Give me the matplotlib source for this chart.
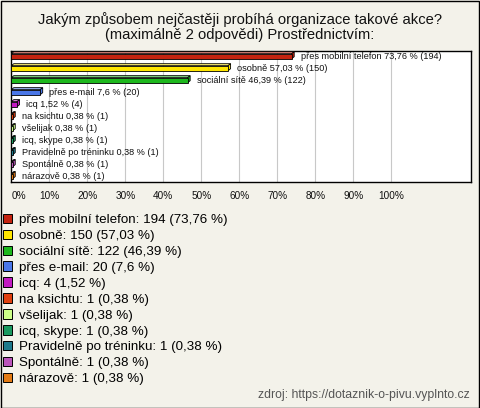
import matplotlib
matplotlib.use("Agg")
import matplotlib.pyplot as plt
from matplotlib.patches import Patch, Rectangle, Polygon
import matplotlib.colors as mcolors
import numpy as np

plt.rcParams['font.family'] = ['Liberation Sans', 'DejaVu Sans']

title = "Jakým způsobem nejčastěji probíhá organizace takové akce?\n(maximálně 2 odpovědi) Prostřednictvím:"
categories = ["přes mobilní telefon", "osobně", "sociální sítě", "přes e-mail", "icq",
              "na ksichtu", "všelijak", "icq, skype", "Pravidelně po tréninku",
              "Spontálně", "nárazově"]
counts = [194, 150, 122, 20, 4, 1, 1, 1, 1, 1, 1]
percents = [73.76, 57.03, 46.39, 7.6, 1.52, 0.38, 0.38, 0.38, 0.38, 0.38, 0.38]
percent_labels = ["73,76", "57,03", "46,39", "7,6", "1,52", "0,38", "0,38", "0,38", "0,38", "0,38", "0,38"]
colors = ["#C42310", "#FFE600", "#1DB81D", "#4A77E8", "#C21AC2", "#E04010",
          "#CCFF88", "#199960", "#1F7A8C", "#BB55BB", "#E37A14"]
ticks = [0, 10, 20, 30, 40, 50, 60, 70, 80, 90, 100]
source = "zdroj: https://dotaznik-o-pivu.vyplnto.cz"

W, H = 480, 408
bg = "#F3F2EA"
fig = plt.figure(figsize=(W / 100, H / 100), dpi=100, facecolor=bg)

# figure border
fig.patches.append(Rectangle((0.5 / W, 0.5 / H), 1 - 1.5 / W, 1 - 1.5 / H, transform=fig.transFigure,
                             fill=False, edgecolor="black", linewidth=1.0))

fig.text(240 / W, 1 - 12 / H, title, ha="center", va="top", fontsize=10.6,
         linespacing=1.05, color="#111111")

ax = fig.add_axes([10.7 / W, 1 - 181.7 / H, (470.5 - 10.7) / W, (181.7 - 50.7) / H])
ax.set_facecolor("white")
ax.set_xlim(-0.16, 120.8)
ax.set_ylim(10.47, -0.46)
for s in ax.spines.values():
    s.set_color("black")
    s.set_linewidth(1.0)
ax.set_xticks(ticks)
ax.set_xticklabels([f"{t}%" for t in ticks], fontsize=7.2)
ax.tick_params(axis="x", length=0, pad=7, colors="#111111")
lbls = ax.get_xticklabels()
lbls[0].set_horizontalalignment("left")
ax.set_yticks([])
ax.grid(axis="x", color="#C8C8C8", linewidth=0.8)
ax.set_axisbelow(True)

y = np.arange(len(categories))
h = 0.42
# pixel -> data conversions for a small 3D depth
px_x = 120.96 / (470.5 - 10.7)
px_y = 10.93 / 131.0
dx, dy = 2.5 * px_x, 2.0 * px_y
for yi, v, c in zip(y, percents, colors):
    light = mcolors.to_rgb(c)
    light = tuple(min(1, 0.55 * l + 0.45) for l in light)
    top = Polygon([(0, yi - h / 2), (dx, yi - h / 2 - dy), (v + dx, yi - h / 2 - dy), (v, yi - h / 2)],
                  closed=True, facecolor=light, edgecolor="black", linewidth=0.6, zorder=3)
    side = Polygon([(v, yi - h / 2), (v + dx, yi - h / 2 - dy), (v + dx, yi + h / 2 - dy), (v, yi + h / 2)],
                   closed=True, facecolor=c, edgecolor="black", linewidth=0.6, zorder=3)
    ax.add_patch(top)
    ax.add_patch(side)
ax.barh(y, percents, height=h, color=colors, edgecolor="black", linewidth=0.6, zorder=4)
for yi, v, cat, pl, n in zip(y, percents, categories, percent_labels, counts):
    ax.text(v + 9 * px_x, yi, f"{cat} {pl} % ({n})", va="center", ha="left",
            fontsize=6.6, color="#111111", zorder=5)

handles = [Patch(facecolor=c, edgecolor="black", linewidth=0.7) for c in colors]
labels = [f"{cat}: {n} ({pl} %)" for cat, n, pl in zip(categories, counts, percent_labels)]
fig.legend(handles, labels, loc="upper left", bbox_to_anchor=(0.0 / W, 1 - 211 / H),
           frameon=False, fontsize=9.6, handlelength=0.7, handleheight=0.7,
           handletextpad=0.55, labelspacing=0.27, borderpad=0.1, borderaxespad=0.1)

fig.text(470 / W, 1 - 395 / H, source, ha="right", va="center", fontsize=8.8, color="#555555")

fig.savefig("out.png", dpi=100, facecolor=bg)
